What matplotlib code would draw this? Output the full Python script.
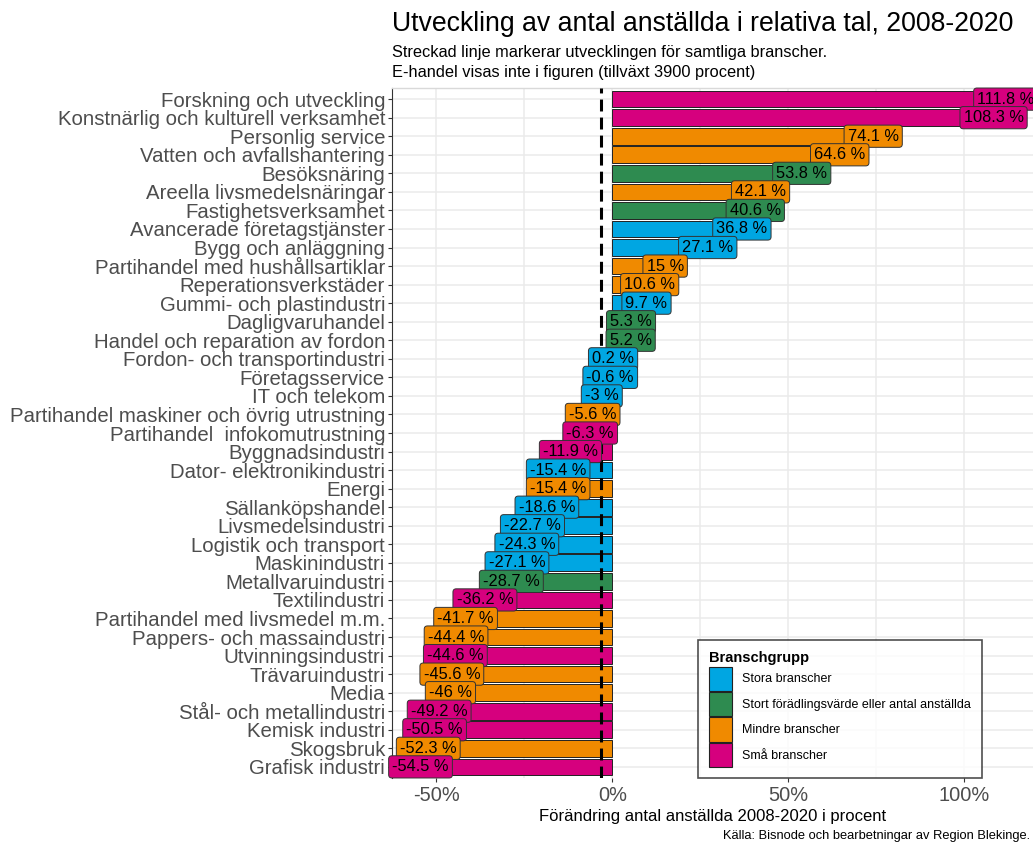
import matplotlib
matplotlib.use("Agg")
import matplotlib.pyplot as plt
from matplotlib.patches import Patch
from matplotlib.ticker import FixedLocator, FuncFormatter

plt.rcParams['font.family'] = ['Liberation Sans', 'DejaVu Sans']

categories = [
    "Forskning och utveckling",
    "Konstnärlig och kulturell verksamhet",
    "Personlig service",
    "Vatten och avfallshantering",
    "Besöksnäring",
    "Areella livsmedelsnäringar",
    "Fastighetsverksamhet",
    "Avancerade företagstjänster",
    "Bygg och anläggning",
    "Partihandel med hushållsartiklar",
    "Reperationsverkstäder",
    "Gummi- och plastindustri",
    "Dagligvaruhandel",
    "Handel och reparation av fordon",
    "Fordon- och transportindustri",
    "Företagsservice",
    "IT och telekom",
    "Partihandel maskiner och övrig utrustning",
    "Partihandel  infokomutrustning",
    "Byggnadsindustri",
    "Dator- elektronikindustri",
    "Energi",
    "Sällanköpshandel",
    "Livsmedelsindustri",
    "Logistik och transport",
    "Maskinindustri",
    "Metallvaruindustri",
    "Textilindustri",
    "Partihandel med livsmedel m.m.",
    "Pappers- och massaindustri",
    "Utvinningsindustri",
    "Trävaruindustri",
    "Media",
    "Stål- och metallindustri",
    "Kemisk industri",
    "Skogsbruk",
    "Grafisk industri",
]
values = [111.8, 108.3, 74.1, 64.6, 53.8, 42.1, 40.6, 36.8, 27.1, 15, 10.6, 9.7,
          5.3, 5.2, 0.2, -0.6, -3, -5.6, -6.3, -11.9, -15.4, -15.4, -18.6, -22.7,
          -24.3, -27.1, -28.7, -36.2, -41.7, -44.4, -44.6, -45.6, -46, -49.2,
          -50.5, -52.3, -54.5]
groups = ["Små", "Små", "Mindre", "Mindre", "Stort", "Mindre", "Stort", "Stora",
          "Stora", "Mindre", "Mindre", "Stora", "Stort", "Stort", "Stora", "Stora",
          "Stora", "Mindre", "Små", "Små", "Stora", "Mindre", "Stora", "Stora",
          "Stora", "Stora", "Stort", "Små", "Mindre", "Mindre", "Små", "Mindre",
          "Mindre", "Små", "Små", "Mindre", "Små"]
total_change = -3.3

group_keys = ["Stora", "Stort", "Mindre", "Små"]
group_labels = ["Stora branscher", "Stort förädlingsvärde eller antal anställda",
                "Mindre branscher", "Små branscher"]
group_colors = {"Stora": "#00A6E2", "Stort": "#2E8B50", "Mindre": "#F08A00", "Små": "#D6007E"}

W, H = 1033, 844
fig = plt.figure(figsize=(W / 100, H / 100), dpi=100)
left_px, right_px, top_px, bot_px = 392, 1033, 88, 778
ax = fig.add_axes([left_px / W, 1 - bot_px / H, (right_px - left_px) / W, (bot_px - top_px) / H])

n = len(categories)
ypos = list(range(n, 0, -1))
cols = [group_colors[g] for g in groups]

ax.barh(ypos, values, height=0.9, color=cols, edgecolor="#222222", linewidth=0.7, zorder=2)
ax.axvline(total_change, color="black", linewidth=2.2, linestyle=(0, (3.9, 2.0)), zorder=3)

for y, v, c in zip(ypos, values, cols):
    ax.text(v, y, f"{v:g} %", ha="center", va="center", fontsize=11.8, color="black",
            zorder=4,
            bbox=dict(boxstyle="round,pad=0.22,rounding_size=0.2", facecolor=c,
                      edgecolor="#333333", linewidth=0.7))

ax.set_xlim(-62.6, 119.5)
ax.set_ylim(0.4, n + 0.6)

ax.xaxis.set_major_locator(FixedLocator([-50, 0, 50, 100]))
ax.xaxis.set_minor_locator(FixedLocator([-25, 25, 75]))
ax.xaxis.set_major_formatter(FuncFormatter(lambda x, p: f"{x:.0f}%"))
ax.set_yticks(ypos)
ax.set_yticklabels(categories)

ax.grid(True, which="major", color="#EBEBEB", linewidth=1.1, zorder=0)
ax.grid(True, which="minor", axis="x", color="#EBEBEB", linewidth=1.1, zorder=0)
ax.set_axisbelow(True)

ax.tick_params(axis="y", labelsize=14.7, labelcolor="#4D4D4D", color="#333333", length=3, width=0.8, pad=2)
ax.tick_params(axis="x", labelsize=14.4, labelcolor="#4D4D4D", color="#333333", length=3, width=0.8, pad=3)
ax.tick_params(axis="x", which="minor", length=0)

for s in ["right", "bottom"]:
    ax.spines[s].set_visible(False)
ax.spines["top"].set_color("#D9D9D9")
ax.spines["top"].set_linewidth(1.0)
ax.spines["left"].set_color("#333333")
ax.spines["left"].set_linewidth(0.8)

ax.set_xlabel("Förändring antal anställda 2008-2020 i procent", fontsize=12, color="black", labelpad=3)

fig.text(392 / W, 1 - 24 / H, "Utveckling av antal anställda i relativa tal, 2008-2020",
         fontsize=19.2, ha="left", va="center", color="black")
fig.text(392 / W, 1 - 53 / H, "Streckad linje markerar utvecklingen för samtliga branscher.",
         fontsize=11.8, ha="left", va="center", color="black")
fig.text(392 / W, 1 - 72 / H, "E-handel visas inte i figuren (tillväxt 3900 procent)",
         fontsize=11.8, ha="left", va="center", color="black")
fig.text(1030 / W, 1 - 836 / H, "Källa: Bisnode och bearbetningar av Region Blekinge.",
         fontsize=9.3, ha="right", va="center", color="black")

handles = [Patch(facecolor=group_colors[k], edgecolor="#222222", linewidth=0.8) for k in group_keys]
leg = ax.legend(handles, group_labels, title="Branschgrupp", loc="upper right",
                bbox_to_anchor=(982 / W, 1 - 640 / H), bbox_transform=fig.transFigure,
                borderaxespad=0, fontsize=9, title_fontsize=10.5, frameon=True, fancybox=False,
                handlelength=1.85, handleheight=2.6, labelspacing=0.1, handletextpad=0.8,
                borderpad=0.9, alignment="left")
leg.get_title().set_fontweight("bold")
leg.get_frame().set_edgecolor("#222222")
leg.get_frame().set_linewidth(1.2)
leg.set_zorder(10)

fig.savefig("out.png", dpi=100, facecolor="white")
